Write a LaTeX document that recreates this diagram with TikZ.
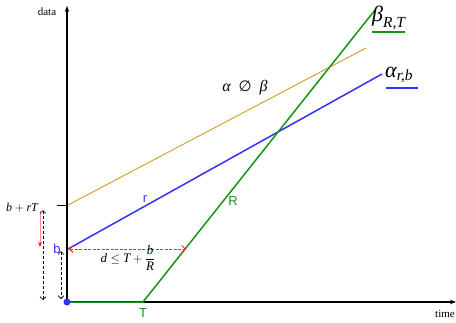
\documentclass[tikz,border=0pt]{standalone}
\usepackage{amsmath,amssymb}
\usepackage{fontspec}
\setmainfont{Liberation Serif}
\newfontfamily\lsans{Liberation Sans}
\newfontfamily\dvsans{DejaVu Sans}
\usetikzlibrary{arrows.meta}
\definecolor{cgreen}{RGB}{20,150,20}
\definecolor{cblue}{RGB}{50,50,250}
\definecolor{corange}{RGB}{210,160,30}
\definecolor{cred}{RGB}{255,40,40}
\newcommand{\itx}[1]{\text{\itshape #1}}
\tikzset{
  axis/.style={line width=1.6pt,-{Stealth[length=6pt,width=4.5pt]}},
  gline/.style={cgreen,line width=1.5pt},
  bline/.style={cblue,line width=1.5pt},
  oline/.style={corange,line width=0.9pt},
  dimarr/.style={densely dashed,line width=0.6pt,{Straight Barb[length=3pt]}-{Straight Barb[length=3pt]}},
  reddim/.style={cred,dash pattern=on 3pt off 1.5pt,line width=1pt,{Straight Barb[length=3.5pt]}-{Straight Barb[length=3.5pt]}},
  lbl/.style={inner sep=0pt,font=\fontsize{11}{12}\selectfont},
  slbl/.style={inner sep=0pt,font=\lsans\fontsize{13}{14}\selectfont},
}
\begin{document}
\begin{tikzpicture}[x=1pt,y=-1pt]
\useasboundingbox (0,0) rectangle (456,322);
\fill[white] (0,0) rectangle (456,322);
% axes
\coordinate (O) at (67,302);
\coordinate (Ytop) at (67,6);
\coordinate (Xend) at (456,302);
\draw[axis] (O) -- (Ytop);
\draw[axis] (O) -- (Xend);
\node[lbl] (data) at (47,12) {data};
\node[lbl,anchor=west] (time) at (435,314) {time};
% lines
\coordinate (T) at (143,302);
\coordinate (Gtop) at (375,10);
\coordinate (Bst) at (68,249);
\coordinate (Bend) at (382,74);
\coordinate (Ost) at (68,205);
\coordinate (Oend) at (366,48);
\coordinate (Dst) at (69,249);
\coordinate (Dend) at (186,249);
\draw[oline] (Ost) -- (Oend);
\draw[bline] (Bst) -- (Bend);
\draw[gline] (O) -- (T) -- (Gtop);
\fill[cblue] (O) circle (3.5pt);
% labels
\node[slbl,text=cgreen] (Tl) at (143,313) {T};
\node[slbl,text=cgreen] (Rl) at (233,201) {R};
\node[slbl,text=cblue] (rl) at (145,199) {r};
\node[slbl,text=cblue] (bl) at (57,249) {b};
\node[inner sep=0pt,font=\fontsize{16}{17}\selectfont] (ob) at (245,88) {\itshape α\enspace{\dvsans\upshape\fontsize{15}{16}\selectfont ∅}\enspace β};
\node[inner sep=0pt,font=\fontsize{22}{24}\selectfont,anchor=west] (beta) at (372,18) {$\itx{β}_{\itx{R,T}}$};
\draw[cgreen,line width=1.5pt] (372,32) -- (405,32);
\node[inner sep=0pt,font=\fontsize{22}{24}\selectfont,anchor=west] (alpha) at (385,75) {$\itx{α}_{\itx{r,b}}$};
\draw[cblue,line width=1.5pt] (386,88) -- (418,88);
% b + rT
\draw[line width=0.6pt] (57,205) -- (67,205);
\node[lbl,font=\fontsize{12}{13}\selectfont] (brt) at (22,208) {$\itx{b}+\itx{rT}$};
\draw[red!45,line width=0.8pt,-{Stealth[length=5pt,width=3.5pt,red]}] (40,211) -- (40,247);
\draw[dimarr] (43,210) -- (43,300);
\draw[dimarr] (61,251) -- (61,299);
\draw[reddim] (Dst) -- (Dend);
\node[inner sep=0pt,font=\fontsize{13}{14}\selectfont] (dl) at (128,258) {$\itx{d}\le \itx{T}+\dfrac{\itx{b}}{\itx{R}}$};
\end{tikzpicture}
\end{document}
